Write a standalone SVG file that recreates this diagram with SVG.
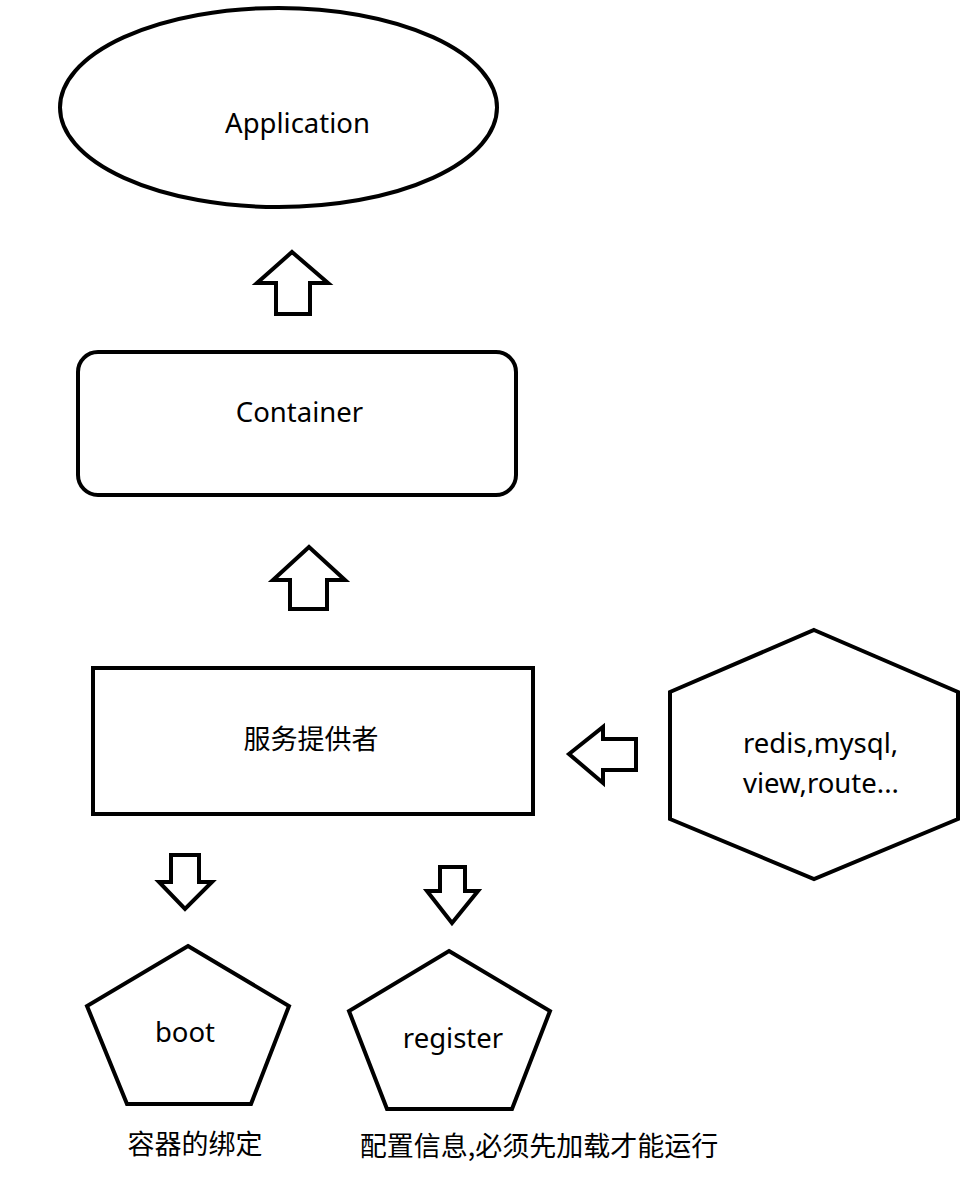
<svg xmlns="http://www.w3.org/2000/svg" width="967" height="1199" viewBox="0 0 967 1199">
<style>
.s{fill:#fff;stroke:#000;stroke-width:4;stroke-linejoin:miter}
.a{fill:#fff;stroke:#000;stroke-width:4;stroke-linejoin:miter}
.t{font-family:"Noto Sans","Noto Sans CJK SC",sans-serif;font-size:27.5px;fill:#000;text-anchor:middle}
.c{font-family:"Noto Sans CJK SC","Noto Sans",sans-serif;font-size:27px;fill:#000;text-anchor:middle}
.l{text-anchor:start}
</style>
<rect width="967" height="1199" fill="#fff"/>
<g id="application">
<ellipse class="s" cx="278.5" cy="107.5" rx="218.5" ry="99.5"/>
<text class="t" x="297.5" y="133">Application</text>
</g>
<g id="container">
<rect class="s" x="78" y="352" width="438" height="143" rx="20" ry="20"/>
<text class="t" x="299.5" y="422">Container</text>
</g>
<g id="provider">
<rect class="s" x="93" y="668" width="440" height="146"/>
<text class="c" x="311" y="749">服务提供者</text>
</g>
<g id="services">
<polygon class="s" points="814,630 958,692 958,819 814,879 670,819 670,692"/>
<text class="t l" x="743" y="753">redis,mysql,</text>
<text class="t l" x="743" y="793">view,route...</text>
</g>
<g id="boot">
<polygon class="s" points="188,946 289,1006 251,1104 127,1104 87,1006"/>
<text class="t" x="185" y="1042">boot</text>
<text class="c" x="195" y="1154">容器的绑定</text>
</g>
<g id="register">
<polygon class="s" points="449,951 550,1011 512,1109 387,1109 349,1011"/>
<text class="t" x="453" y="1048">register</text>
<text class="c" x="539" y="1156">配置信息,必须先加载才能运行</text>
</g>
<g id="connectors">
<polygon class="a" points="292,252 328,283 310,283 310,314 276,314 276,283 257,283"/>
<polygon class="a" points="309,547 345,580 327,580 327,609 290,609 290,580 273,580"/>
<polygon class="a" points="569,754 603,727 603,739 636,739 636,770 603,770 603,783"/>
<polygon class="a" points="171,855 199,855 199,882 212,882 185,909 159,882 171,882"/>
<polygon class="a" points="440,867 465,867 465,891 478,891 452,923 427,891 440,891"/>
</g>
</svg>
